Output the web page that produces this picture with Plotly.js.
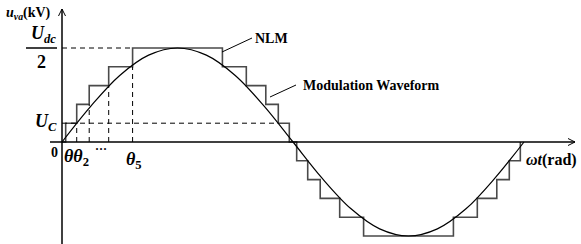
<!DOCTYPE html>
<html>
<head>
<meta charset="utf-8">
<script src="https://cdn.plot.ly/plotly-3.0.1.min.js"></script>
<style>html,body{margin:0;padding:0;background:#fff;}#chart{width:581px;height:244px;}</style>
</head>
<body>
<div id="chart"></div>
<script>
// Switching angles of the nearest-level modulation staircase (rad)
var switchAngles = [0.05, 0.2, 0.37, 0.635, 0.96];
// Staircase levels (number of sub-module voltage steps U_C)
var stepLevels = [1, 2, 3, 4, 5];
// Modulation waveform sample points (rad) and values (in U_C units)
var modAngles = [0, 0.393, 0.785, 1.178, 1.571, 1.963, 2.356, 2.749, 3.142, 3.534, 3.927, 4.320, 4.712, 5.105, 5.498, 5.890, 6.283];
var modValues = [0, 1.91, 3.54, 4.62, 5.0, 4.62, 3.54, 1.91, 0, -1.91, -3.54, -4.62, -5.0, -4.62, -3.54, -1.91, 0];

var PI = Math.PI;
var W = 581, H = 244;
var originX = 62, originY = 142;
var pxPerRad = 462 / (2 * PI);
var pxPerLevel = 18.8;

// build staircase from switching angles
var sx = [0], sy = [0];
var n = switchAngles.length;
for (var i = 0; i < n; i++) { sx.push(switchAngles[i]); sy.push(stepLevels[i]); }
for (var i = n - 1; i >= 0; i--) { sx.push(PI - switchAngles[i]); sy.push(stepLevels[i] - 1); }
for (var i = 0; i < n; i++) { sx.push(PI + switchAngles[i]); sy.push(-stepLevels[i]); }
for (var i = n - 1; i >= 0; i--) { sx.push(2 * PI - switchAngles[i]); sy.push(-(stepLevels[i] - 1)); }

var traces = [
  {x: sx, y: sy, mode: 'lines', line: {shape: 'hv', color: '#4a4a4a', width: 1.6}, hoverinfo: 'skip'},
  {x: modAngles, y: modValues, mode: 'lines', line: {shape: 'spline', smoothing: 1, color: '#000', width: 1.2}, hoverinfo: 'skip'}
];

function px(x) { return x / W; }
function py(y) { return 1 - y / H; }
function pline(x0, y0, x1, y1, w, dash) {
  return {type: 'line', xref: 'paper', yref: 'paper', x0: px(x0), y0: py(y0), x1: px(x1), y1: py(y1),
          line: {color: '#000', width: w || 1, dash: dash || 'solid'}};
}
function dline(x0, y0, x1, y1) {
  return {type: 'line', xref: 'x', yref: 'y', x0: x0, y0: y0, x1: x1, y1: y1,
          line: {color: '#000', width: 1, dash: '5px,4px'}};
}

var shapes = [];
// dashed guides
shapes.push(dline(0, stepLevels[n - 1], switchAngles[n - 1], stepLevels[n - 1]));
shapes.push(dline(0, stepLevels[0], PI - switchAngles[1], stepLevels[0]));
for (var i = 1; i < n; i++) shapes.push(dline(switchAngles[i], 0, switchAngles[i], stepLevels[i - 1]));
// axes
shapes.push(pline(originX, 9, originX, 244, 1.5));
shapes.push(pline(50, originY, 575, originY, 1.5));
// arrowheads
shapes.push(pline(58.5, 16, originX, 9, 1));
shapes.push(pline(65.5, 16, originX, 9, 1));
shapes.push(pline(568, 138.5, 575, originY, 1));
shapes.push(pline(568, 145.5, 575, originY, 1));
// fraction bar
shapes.push(pline(26, 48, 57, 48, 1.5));
// leader lines
shapes.push(pline(222, 52, 252, 38, 1));
shapes.push(pline(270, 97, 296, 85, 1));

var F = 'Liberation Serif, Times New Roman, serif';
function ann(x, y, text, size, xa) {
  return {xref: 'paper', yref: 'paper', x: px(x), y: py(y), text: text, showarrow: false,
          xanchor: xa || 'center', yanchor: 'middle', font: {family: F, size: size, color: '#000'}};
}
var annotations = [
  ann(4, 13, '<b><i>u</i><sub><i>va</i></sub>(kV)</b>', 14, 'left'),
  ann(43, 34, '<b><i>U</i><sub><i>dc</i></sub></b>', 18),
  ann(41, 62, '<b>2</b>', 18),
  ann(46, 123, '<b><i>U</i><sub><i>C</i></sub></b>', 18),
  ann(54, 152, '<b>0</b>', 14),
  ann(62, 157, '<b><i>θθ</i><sub>2</sub></b>', 18, 'left'),
  ann(101, 149, '<b>···</b>', 12),
  ann(124, 160, '<b><i>θ</i><sub>5</sub></b>', 18, 'left'),
  ann(253, 38, '<b>NLM</b>', 14, 'left'),
  ann(301, 85, '<b>Modulation Waveform</b>', 14, 'left'),
  ann(524, 160, '<b><i>ωt</i>(rad)</b>', 16, 'left')
];

var layout = {
  width: W, height: H,
  margin: {l: 0, r: 0, t: 0, b: 0},
  paper_bgcolor: '#fff', plot_bgcolor: '#fff',
  showlegend: false,
  xaxis: {visible: false, range: [-originX / pxPerRad, (W - originX) / pxPerRad], fixedrange: true},
  yaxis: {visible: false, range: [-(H - originY) / pxPerLevel, originY / pxPerLevel], fixedrange: true},
  shapes: shapes,
  annotations: annotations
};
Plotly.newPlot('chart', traces, layout, {displayModeBar: false, staticPlot: true});
</script>
</body>
</html>
